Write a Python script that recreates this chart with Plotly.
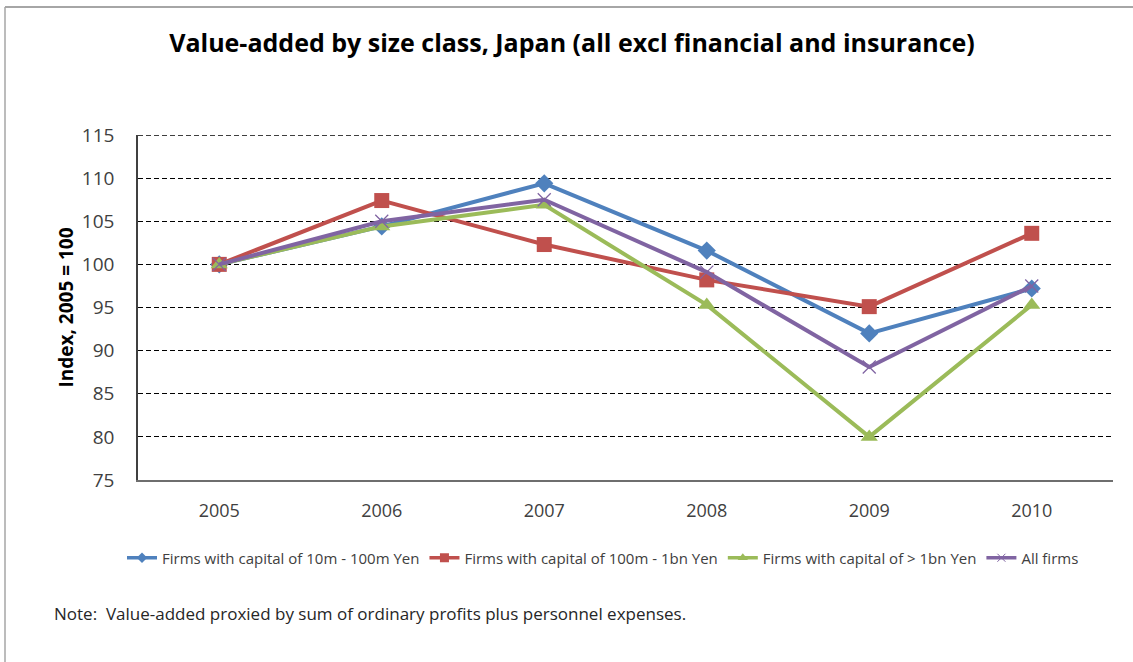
import plotly.graph_objects as go

years = ["2005", "2006", "2007", "2008", "2009", "2010"]

small_firms = [100.0, 104.4, 109.4, 101.6, 92.0, 97.2]
medium_firms = [100.0, 107.4, 102.3, 98.2, 95.1, 103.6]
large_firms = [100.0, 104.4, 106.9, 95.3, 80.0, 95.3]
all_firms = [100.0, 105.0, 107.5, 99.1, 88.1, 97.5]

series_names = [
    "Firms with capital of 10m - 100m Yen",
    "Firms with capital of 100m - 1bn Yen",
    "Firms with capital of > 1bn Yen",
    "All firms",
]

y_ticks = [75, 80, 85, 90, 95, 100, 105, 110, 115]

FONT = "Open Sans, Liberation Sans, sans-serif"

W, H = 1133, 662
ML, MR, MT, MB = 138, 20, 135, 182
PW, PH = W - ML - MR, H - MT - MB


def px_x(x):
    return (x - ML) / PW


def px_y(y):
    return 1 - (y - MT) / PH


styles = [
    dict(color="#4F81BD", symbol="diamond", size=14, legend_size=8),
    dict(color="#C0504D", symbol="square", size=15, legend_size=9),
    dict(color="#9BBB59", symbol="triangle-up", size=15, legend_size=9),
    dict(color="#8064A2", symbol="x-thin", size=13, legend_size=8),
]

GRID_DASH = "5px,3px"

fig = go.Figure()
for name, values, st in zip(series_names, [small_firms, medium_firms, large_firms, all_firms], styles):
    marker = dict(symbol=st["symbol"], size=st["size"], color=st["color"])
    if st["symbol"] == "x-thin":
        marker["line"] = dict(color=st["color"], width=1.3)
    fig.add_trace(go.Scatter(
        x=years, y=values, name=name, mode="lines+markers",
        line=dict(color=st["color"], width=4),
        marker=marker, legendgroup=name, showlegend=False,
    ))
    # legend entry with smaller key markers
    key_marker = dict(symbol=st["symbol"], size=st["legend_size"], color=st["color"])
    if st["symbol"] == "x-thin":
        key_marker["line"] = dict(color=st["color"], width=1)
    fig.add_trace(go.Scatter(
        x=[None], y=[None], name=name, mode="lines+markers",
        line=dict(color=st["color"], width=3.5),
        marker=key_marker, legendgroup=name, showlegend=True,
    ))

fig.update_layout(
    width=W, height=H,
    margin=dict(l=ML, r=MR, t=MT, b=MB),
    paper_bgcolor="white", plot_bgcolor="white",
    font=dict(family=FONT, color="#404040"),
    title=dict(
        text="<b>Value-added by size class, Japan (all excl financial and insurance)</b>",
        x=px_x(572), xref="paper", xanchor="center",
        y=1 - 43 / H, yref="container", yanchor="middle",
        font=dict(size=25, color="#000000", family=FONT),
    ),
    xaxis=dict(
        type="category", range=[-0.5, 5.5],
        showline=True, linecolor="#6e6e6e", linewidth=1.5,
        showgrid=False, ticks="", ticklabelstandoff=14,
        tickfont=dict(size=18, color="#404040"),
        zeroline=False,
    ),
    yaxis=dict(
        range=[75, 115], tickvals=y_ticks,
        showline=True, linecolor="#404040", linewidth=1.5,
        showgrid=True, gridcolor="#000000", gridwidth=1.3, griddash=GRID_DASH,
        ticks="", ticklabelstandoff=18,
        tickfont=dict(size=19, color="#404040"),
        zeroline=False,
        title=dict(text="<b>Index, 2005 = 100</b>", font=dict(size=19, color="#000000"), standoff=3),
    ),
    legend=dict(
        orientation="h", x=px_x(603), xanchor="center", y=px_y(558), yanchor="middle",
        font=dict(size=15, color="#404040"), itemwidth=30, tracegroupgap=0,
    ),
    showlegend=True,
)

# top gridline sits on the plot edge, so draw it explicitly
fig.add_shape(type="line", xref="paper", yref="y", x0=0, x1=1,
              y0=y_ticks[-1], y1=y_ticks[-1],
              line=dict(color="#000000", width=1.3, dash=GRID_DASH))

fig.add_annotation(
    text="Note:  Value-added proxied by sum of ordinary profits plus personnel expenses.",
    x=px_x(52), y=px_y(613), xref="paper", yref="paper",
    xanchor="left", yanchor="middle", showarrow=False,
    font=dict(size=17, color="#262626", family=FONT),
)

# outer frame of the figure panel
fig.add_shape(type="line", xref="paper", yref="paper",
              x0=px_x(5), x1=px_x(1133), y0=px_y(7), y1=px_y(7),
              line=dict(color="#a6a6a6", width=2))
fig.add_shape(type="line", xref="paper", yref="paper",
              x0=px_x(5), x1=px_x(5), y0=px_y(7), y1=px_y(662),
              line=dict(color="#a6a6a6", width=1.5))

fig.write_html("out.html")
